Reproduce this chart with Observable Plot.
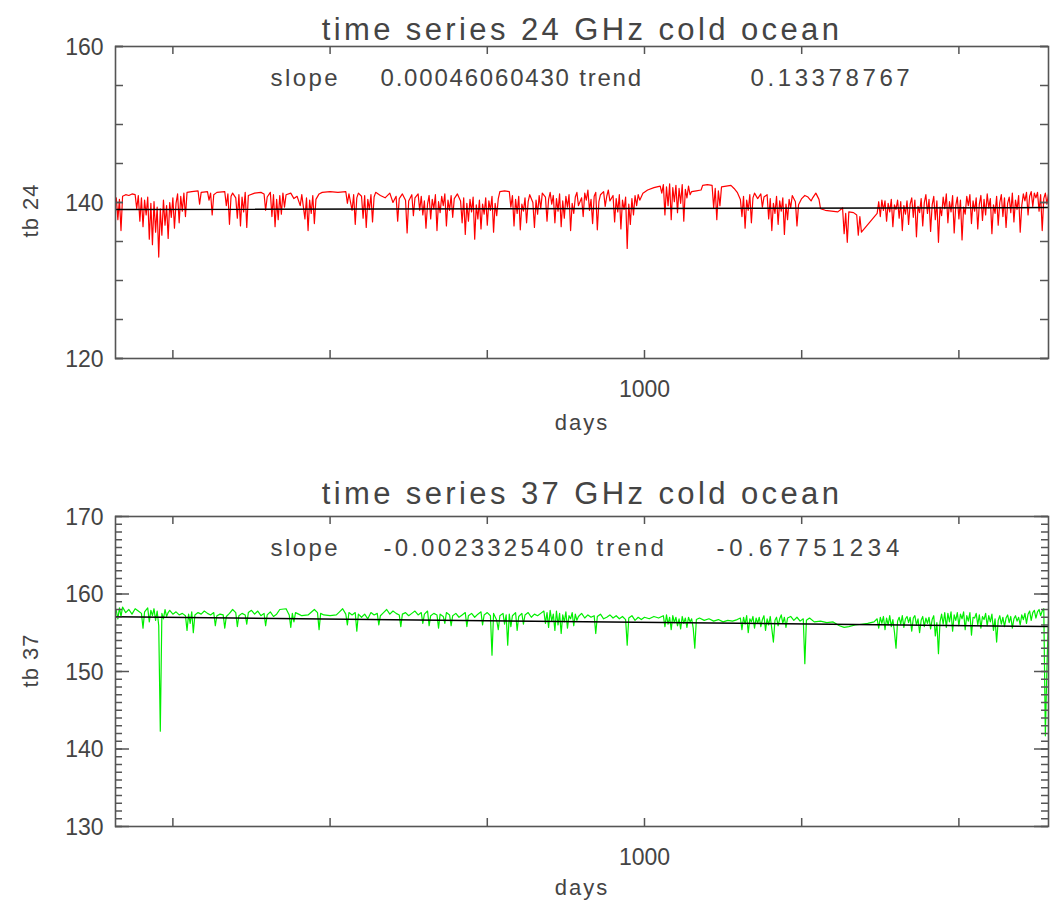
<!DOCTYPE html>
<html><head><meta charset="utf-8">
<script src="https://cdn.jsdelivr.net/npm/d3@7"></script>
<script src="https://cdn.jsdelivr.net/npm/@observablehq/plot@0.6"></script>
<style>body{margin:0;background:#fff} svg{display:block}</style>
</head><body><div id="c"></div>
<script>
// [day, tb]
const series24 = [
[664,140.6],[665,137.8],[666,140.4],[667,136.4],[668,140.8],[670,141.0],[672,140.9],[674,141.1],[676,141.0],[677,139.2],[678,140.9],[679,137.6],[680,140.6],[681,136.9],[682,140.3],[683,138.4],[684,140.7],[685,135.3],[686,139.9],[687,134.6],[688,140.1],[689,136.2],[690,139.4],[691,133.0],[692,139.2],[693,135.8],[694,140.3],[695,137.1],[696,139.6],[697,135.4],[698,140.0],[699,138.1],[700,140.6],[701,136.7],[702,139.9],[703,141.1],[704,137.4],[705,140.8],[706,138.9],[707,141.2],[708,138.2],[709,141.3],
[712,141.4],[716,141.5],[717,139.8],[718,141.3],[722,141.4],[723,140.3],[724,141.2],[725,138.4],[726,141.0],[728,141.3],[733,141.4],[734,139.6],[735,141.1],[736,137.2],[737,140.8],[738,141.2],[740,140.6],[741,138.0],[742,141.0],[743,137.0],[744,140.7],[745,138.8],[746,141.3],[747,136.8],[748,140.9],[752,141.2],[756,141.3],[758,141.1],[759,139.0],[760,140.7],[762,141.3],[763,138.2],[764,141.0],[765,136.9],[766,140.4],[767,137.8],[768,140.9],[769,138.5],[770,141.2],[771,139.4],[772,141.0],
[775,141.2],[777,140.5],[779,140.8],[781,139.6],[782,141.0],[784,137.9],[785,140.6],[786,136.4],[787,140.3],[788,138.6],[789,140.9],[790,137.3],[791,140.4],[793,141.1],[795,141.3],[800,141.4],[805,141.3],[810,141.4],[811,139.9],[812,141.1],
[814,139.0],[815,141.0],[816,137.2],[817,140.6],[818,141.2],[820,140.8],[821,138.0],[822,140.9],[823,136.8],[824,140.4],[825,139.1],[826,141.0],[827,137.5],[828,140.7],[829,141.3],[832,140.9],[835,140.6],[838,141.2],[840,140.0],[842,140.8],[843,137.6],[844,140.5],[846,141.1],[848,140.3],[849,136.1],[850,140.2],[852,141.0],[853,138.3],[854,140.6],[856,141.1],[857,139.0],
[858,140.8],[859,138.4],[860,140.2],[861,136.7],[862,139.8],[863,140.9],[864,137.9],[865,140.4],[866,139.2],[867,141.0],[868,136.4],[869,140.1],[870,138.7],[871,140.8],[872,139.6],[873,141.1],[874,137.0],[875,140.3],[876,139.0],[877,140.9],[878,138.1],[879,140.5],[881,141.1],[883,140.2],[884,137.4],[885,140.6],[886,135.9],[887,139.9],[888,137.6],[889,140.4],[890,138.8],[891,140.7],[892,135.3],[893,139.7],[894,137.9],[895,140.3],[896,136.6],[897,139.8],[898,138.5],[899,140.6],[900,137.1],[901,140.2],[902,139.0],[903,140.8],[904,136.2],[905,139.9],[906,138.3],[907,140.5],[908,141.4],[911,141.5],[914,141.4],[915,139.4],[916,140.9],[917,137.0],[918,140.4],[919,138.6],[920,140.8],[921,136.5],[922,139.8],[923,138.9],[924,140.6],[925,137.4],[926,140.1],[927,141.0],
[929,140.0],[930,136.8],[931,140.3],[932,138.5],[933,140.9],[934,139.2],[935,141.2],[937,140.7],[938,137.6],[939,140.4],[940,141.3],[941,139.8],[942,140.9],[943,137.4],[944,140.5],[945,138.9],[946,141.1],[947,136.9],[948,140.2],[949,138.0],[950,140.8],[951,139.4],[952,141.0],[953,136.4],[954,139.9],[955,138.6],[956,140.7],[957,141.3],[958,139.6],[960,140.6],[961,138.2],[962,141.2],[963,140.3],[964,141.6],[965,139.0],[966,140.4],[967,137.3],[968,140.8],[969,141.3],[970,136.5],[971,140.1],
[972,141.0],[974,141.4],[975,139.5],[976,140.8],[977,141.6],[978,140.2],[980,140.9],[981,137.5],[982,140.5],[983,138.8],[984,141.0],[985,136.6],[986,140.3],[987,139.1],[988,140.7],[989,134.1],[990,139.8],[991,137.2],[992,140.5],[993,138.4],[994,140.9],[995,139.6],[996,141.0],[997,140.3],[999,141.2],[1002,141.6],[1006,141.9],[1010,142.1],
[1011,141.2],[1012,142.3],[1013,138.4],[1014,142.0],[1015,139.6],[1016,142.4],[1017,137.8],[1018,141.9],[1019,140.1],[1020,142.2],[1021,138.7],[1022,141.8],[1023,139.9],[1024,142.3],[1025,137.6],[1026,141.7],[1027,140.6],[1028,142.1],[1029,141.0],
[1030,141.4],[1033,141.5],[1036,141.6],[1037,142.2],[1040,142.3],[1043,142.2],[1044,139.3],[1045,141.8],[1046,137.8],[1047,141.5],[1048,139.6],[1049,142.0],[1052,142.1],[1055,142.2],[1057,141.8],[1059,141.3],
[1061,140.4],[1062,138.2],[1063,140.8],[1064,136.7],[1065,140.3],[1066,139.0],[1067,141.0],[1068,137.4],[1069,140.6],[1070,141.2],[1072,140.5],[1074,141.1],[1075,139.4],[1076,140.7],[1078,141.0],[1079,137.9],[1080,140.5],[1081,136.4],[1082,139.9],[1083,138.6],[1084,140.8],[1085,137.2],[1086,140.2],[1087,138.9],[1088,140.6],[1089,135.9],[1090,139.8],[1091,137.8],[1092,140.4],[1093,139.3],[1094,140.9],[1096,140.1],[1097,137.0],[1098,139.7],[1100,140.5],[1102,140.9],[1104,140.7],[1106,140.2],
[1107,140.6],[1109,141.2],[1111,140.4],[1112,139.2],[1115,139.0],[1119,138.9],[1123,138.8],[1126,139.3],[1127,136.0],[1128,138.6],[1129,134.9],[1130,138.8],[1133,138.7],[1135,138.4],[1136,135.8],[1137,138.2],[1138,136.2],[1148,138.6],
[1149,140.1],[1150,138.2],[1151,140.3],[1152,139.0],[1153,140.2],[1154,137.6],[1155,139.9],[1156,138.8],[1157,140.4],[1158,136.9],[1159,139.7],[1160,139.1],[1161,140.3],[1162,138.0],[1163,140.1],[1164,136.4],[1165,139.6],[1166,138.5],[1167,140.2],[1168,137.2],[1169,139.8],[1170,140.6],[1171,138.1],[1172,140.3],[1173,135.6],[1174,139.5],[1175,138.7],[1176,140.5],[1177,137.0],[1178,140.0],[1179,141.0],[1180,138.6],[1181,140.4],[1182,136.3],[1183,139.7],[1184,140.8],[1185,137.8],[1186,140.2],[1187,134.9],[1188,139.4],[1189,138.3],[1190,140.7],[1191,139.2],[1192,141.1],[1193,137.4],[1194,140.1],[1195,138.8],[1196,140.9],[1197,136.1],[1198,139.6],[1199,140.7],[1200,137.9],[1201,140.3],[1202,135.2],[1203,139.4],[1204,138.5],[1205,140.8],[1206,139.6],[1207,141.0],[1208,137.3],[1209,140.2],[1210,138.9],[1211,140.6],[1212,136.6],[1213,139.8],[1214,140.9],[1215,137.7],[1216,140.4],[1217,138.4],[1218,141.1],[1219,139.3],[1220,140.5],[1221,136.0],[1222,139.7],[1223,138.6],[1224,140.8],[1225,137.1],[1226,140.0],[1227,141.0],[1228,138.2],[1229,140.6],[1230,136.8],[1231,139.9],[1232,140.7],[1233,138.7],[1234,141.2],[1235,137.5],[1236,140.3],[1237,139.1],[1238,140.9],[1239,136.2],[1240,139.6],[1241,141.1],[1242,140.2],[1243,141.3],[1244,138.4],[1245,140.8],[1246,141.4],[1247,139.5],[1248,141.2],[1249,140.6],[1250,141.3],[1251,138.9],[1252,141.0],[1253,136.4],[1254,140.5],[1255,141.2],[1256,139.8],[1257,141.1]
];
const series37 = [
[664,157.9],[665,156.8],[666,158.2],[667,157.1],[668,158.3],[670,157.6],[672,158.0],[674,157.4],[676,158.1],[678,157.8],[680,157.5],[681,155.6],[682,157.7],[684,158.2],[685,156.4],[686,157.9],[687,157.2],[688,158.1],[689,156.6],[690,157.8],[691,155.9],[692,142.3],[693,157.5],[694,156.8],[695,158.0],[696,157.1],[697,157.6],[698,157.9],[700,157.4],[702,157.7],[704,157.3],[706,157.5],[708,157.2],[709,155.3],[710,157.4],[711,156.2],[712,157.7],[713,155.0],[714,157.3],[716,157.6],[718,157.4],
[720,157.8],[722,157.5],[724,157.3],[726,157.6],[727,155.9],[728,157.2],[730,157.4],[732,157.3],[733,155.6],[734,157.1],[736,157.5],[738,158.0],[740,157.6],[741,155.8],[742,157.2],[744,157.5],[746,157.3],[747,156.1],[748,157.6],[750,157.9],[752,157.4],[754,157.8],[756,157.2],[758,157.5],[759,155.9],[760,157.3],[762,157.7],[764,157.1],[766,157.4],[768,158.0],[772,158.1],[774,157.3],[775,155.7],[776,157.5],[777,156.4],[778,157.6],[780,157.4],[782,157.2],[786,157.3],[790,158.0],[792,157.6],[793,155.4],[794,157.5],[796,157.3],[800,157.2],[804,157.3],[806,157.7],[808,158.1],[810,157.4],[811,156.0],[812,157.6],
[814,157.3],[816,157.6],[817,155.2],[818,157.4],[820,157.0],[822,157.4],[824,156.8],[826,157.6],[828,157.3],[830,157.5],[831,156.0],[832,157.2],[834,157.6],[836,158.0],[838,157.4],[840,157.8],[842,157.5],[844,157.3],[845,155.8],[846,157.4],[848,157.6],[850,157.2],[852,157.5],[854,157.8],[856,157.3],[858,157.6],[859,156.2],[860,157.4],[862,157.8],[863,155.9],[864,157.2],[866,157.5],[868,157.3],[869,155.6],[870,157.4],[872,157.1],[873,156.2],[874,157.6],[876,157.3],[877,155.9],[878,157.2],[880,157.5],[882,157.0],[884,157.3],[886,157.6],[887,155.8],[888,157.2],[890,157.5],[892,157.0],[894,157.4],[896,157.7],[897,156.0],[898,157.3],[900,157.6],[902,157.2],[903,152.1],[904,157.5],[906,156.6],[907,155.4],[908,157.2],[910,157.5],[911,156.1],[912,157.3],[913,153.4],[914,157.4],[915,155.8],[916,157.2],[918,157.6],[919,155.3],[920,157.1],[922,157.5],[923,156.1],[924,157.3],[926,157.6],[928,157.0],
[930,157.4],[932,157.2],[934,157.5],[936,157.8],[937,156.2],[938,157.6],[939,155.7],[940,157.9],[941,156.5],[942,157.4],[943,155.3],[944,157.8],[945,156.0],[946,157.5],[947,154.9],[948,157.3],[949,156.4],[950,157.7],[951,155.6],[952,157.2],[953,156.8],[954,157.6],[955,155.9],[956,157.4],[957,156.6],[958,157.1],[960,157.5],[962,156.9],[964,157.3],[966,157.0],[968,157.2],[969,154.9],[970,157.1],[972,157.4],[974,156.8],[976,157.0],[978,157.3],[980,156.9],[982,157.2],[984,156.8],[986,157.1],[988,156.7],[989,153.4],[990,156.9],[992,157.2],[994,156.6],[996,157.0],[998,156.7],
[1000,157.0],[1003,156.8],[1006,157.1],[1009,156.9],[1012,157.2],[1013,155.8],[1014,157.3],[1015,156.1],[1016,157.0],[1017,155.4],[1018,157.2],[1019,156.3],[1020,157.0],[1021,155.9],[1022,156.8],[1023,155.5],[1024,157.1],[1025,156.2],[1026,156.9],[1027,155.7],[1028,157.0],[1029,156.4],[1030,156.8],[1031,155.6],[1032,153.0],[1033,156.7],[1035,156.9],[1038,156.6],[1041,156.8],[1044,156.5],[1047,156.7],[1050,156.4],[1053,156.6],[1056,156.5],[1059,156.7],
[1061,156.9],[1062,155.4],[1063,157.0],[1064,156.1],[1065,157.2],[1066,155.0],[1067,156.8],[1068,156.4],[1069,157.1],[1070,155.6],[1071,156.9],[1072,156.2],[1073,157.0],[1074,155.8],[1075,156.7],[1076,157.2],[1077,155.3],[1078,156.8],[1079,156.0],[1080,157.1],[1081,155.5],[1082,153.8],[1083,156.6],[1084,157.0],[1085,155.9],[1086,156.8],[1087,157.3],[1088,156.2],[1089,157.0],[1090,155.7],[1091,156.9],[1093,157.1],[1095,156.6],[1097,157.0],[1099,156.5],[1101,156.8],[1102,151.0],[1103,156.6],[1105,156.9],[1108,156.4],[1112,156.5],[1116,156.3],[1120,156.4],[1124,155.9],[1127,155.7],[1130,155.8],[1134,156.0],[1138,156.1],[1142,156.2],[1146,156.4],
[1148,156.8],[1149,155.6],[1150,157.0],[1151,156.2],[1152,157.1],[1153,155.4],[1154,156.9],[1155,156.0],[1156,157.2],[1157,155.8],[1158,156.7],[1159,155.1],[1160,153.0],[1161,156.5],[1162,157.0],[1163,156.1],[1164,157.2],[1165,155.7],[1166,156.8],[1167,157.1],[1168,156.3],[1169,157.0],[1170,155.2],[1171,156.9],[1172,157.2],[1173,156.0],[1174,156.8],[1175,155.0],[1176,156.6],[1177,157.1],[1178,155.8],[1179,156.9],[1180,156.2],[1181,157.0],[1182,155.5],[1183,156.7],[1184,157.2],[1185,154.6],[1186,156.3],[1187,152.3],[1188,156.4],[1189,157.4],[1190,156.1],[1191,157.6],[1192,155.7],[1193,157.5],[1194,156.4],[1195,157.7],[1196,155.2],[1197,157.3],[1198,156.6],[1199,157.6],[1200,155.9],[1201,157.4],[1202,156.8],[1203,157.7],[1204,155.4],[1205,157.2],[1206,156.5],[1207,157.6],[1208,154.7],[1209,157.0],[1210,156.9],[1211,157.5],[1212,156.0],[1213,157.3],[1214,155.6],[1215,157.1],[1216,156.7],[1217,157.5],[1218,155.9],[1219,157.2],[1220,156.4],[1221,157.4],[1222,155.3],[1223,156.8],[1224,153.8],[1225,156.6],[1226,157.2],[1227,156.1],[1228,157.0],[1229,155.8],[1230,156.9],[1231,157.3],[1232,156.3],[1233,157.1],[1234,155.6],[1235,156.8],[1236,157.2],[1237,156.5],[1238,157.0],[1239,156.0],[1240,157.3],[1241,156.7],[1242,157.5],[1243,156.2],[1244,157.4],[1245,157.8],[1246,156.6],[1247,157.6],[1248,157.9],[1249,156.9],[1250,157.7],[1251,158.0],[1252,157.2],[1253,157.8],[1254,158.1],[1255,141.7],[1256,150.5],[1257,157.0]
];
const trend24 = [[663.5,139.1],[1257,139.35]];
const trend37 = [[663.5,157.05],[1257,155.8]];

const xDomain = [663.5, 1257];
const xTicks = [700, 800, 900, 1000, 1100, 1200];
const xLabels = [1000];

const yDomain24 = [120, 160];
const yLabels24 = [120, 140, 160];
const yMinor24 = [120, 125, 130, 135, 140, 145, 150, 155, 160];

const yDomain37 = [130, 170];
const yLabels37 = [130, 140, 150, 160, 170];
const yMinor37 = [130,131,132,133,134,135,136,137,138,139,140,141,142,143,144,145,146,147,148,149,150,151,152,153,154,155,156,157,158,159,160,161,162,163,164,165,166,167,168,169,170];

const panels = [
  {data: series24, trend: trend24, color: "#ff0000", yDomain: yDomain24, yLabels: yLabels24, yMinor: yMinor24,
   majorLen: 8, minorLen: 8, title: "time series 24 GHz cold ocean",
   s1: "slope", s2: "0.00046060430 trend", s3: "0.13378767", s2x: 380, s3x: 750, sp2: 1.8, sp3: 3.6,
   ylab: "tb 24", height: 451, marginTop: 46, marginBottom: 93, titleDy: -16, ylabDy: 8, daysDy: 64},
  {data: series37, trend: trend37, color: "#00ee00", yDomain: yDomain37, yLabels: yLabels37, yMinor: yMinor37,
   majorLen: 14, minorLen: 7, title: "time series 37 GHz cold ocean",
   s1: "slope", s2: "-0.0023325400 trend", s3: "-0.67751234", s2x: 383, s3x: 716, sp2: 3.2, sp3: 4.8,
   ylab: "tb 37", height: 451, marginTop: 65, marginBottom: 76, titleDy: -22, ylabDy: -11, daysDy: 61}
];

const W = 1050, ML = 115, MR = 2;
const fw = W - ML - MR;
const axisColor = "#555";
const font = "Liberation Sans, Arial, Helvetica, sans-serif";
const narrow = "'Liberation Sans Narrow', 'Arial Narrow', sans-serif";

for (const p of panels) {
  const fh = p.height - p.marginTop - p.marginBottom;
  const X = d => d[0], Y = d => d[1];
  const svg = Plot.plot({
    width: W, height: p.height,
    marginLeft: ML, marginRight: MR, marginTop: p.marginTop, marginBottom: p.marginBottom,
    style: {fontFamily: font, fontSize: "21px", color: "#444", background: "#fff", overflow: "visible"},
    x: {domain: xDomain, type: "linear"},
    y: {domain: p.yDomain},
    marks: [
      Plot.line(p.data, {x: X, y: Y, stroke: p.color, strokeWidth: 1.2, clip: true}),
      Plot.line(p.trend, {x: X, y: Y, stroke: "#000", strokeWidth: 1.5, clip: true}),
      Plot.frame({stroke: axisColor, strokeWidth: 1.6}),
      Plot.tickX(xTicks, {x: d => d, insetTop: fh - 8, stroke: axisColor, strokeWidth: 1.5}),
      Plot.tickX(xTicks, {x: d => d, insetBottom: fh - 8, stroke: axisColor, strokeWidth: 1.5}),
      Plot.tickY(p.yMinor, {y: d => d, stroke: axisColor, strokeWidth: 1.5, insetRight: fw - p.minorLen}),
      Plot.tickY(p.yLabels, {y: d => d, stroke: axisColor, strokeWidth: 1.5, insetRight: fw - p.majorLen}),
      Plot.tickY(p.yMinor, {y: d => d, stroke: axisColor, strokeWidth: 1.5, insetLeft: fw - p.minorLen}),
      Plot.tickY(p.yLabels, {y: d => d, stroke: axisColor, strokeWidth: 1.5, insetLeft: fw - p.majorLen}),
      Plot.axisY({ticks: p.yLabels, tickSize: 0, tickPadding: 12, label: null, tickFormat: d => String(d), dy: 1, fontSize: 21}),
      Plot.axisX({ticks: xLabels, tickSize: 0, tickPadding: 22, label: null, tickFormat: d => String(d), fontSize: 21}),
      Plot.text(["days"], {text: d => d, frameAnchor: "bottom", dy: p.daysDy, lineAnchor: "middle", fontSize: 22}),
      Plot.text([p.ylab], {text: d => d, frameAnchor: "left", dx: -85, dy: p.ylabDy, rotate: -90, textAnchor: "middle", lineAnchor: "middle", fontSize: 22}),
      Plot.text([p.title], {text: d => d, frameAnchor: "top", dy: p.titleDy, textAnchor: "middle", lineAnchor: "middle", fontSize: 31}),
      Plot.text([p.s1], {text: d => d, frameAnchor: "top-left", dx: 270 - ML, dy: 32, textAnchor: "start", lineAnchor: "middle", fontSize: 24}),
      Plot.text([p.s2], {text: d => d, frameAnchor: "top-left", dx: p.s2x - ML, dy: 32, textAnchor: "start", lineAnchor: "middle", fontSize: 24}),
      Plot.text([p.s3], {text: d => d, frameAnchor: "top-left", dx: p.s3x - ML, dy: 32, textAnchor: "start", lineAnchor: "middle", fontSize: 24})
    ]
  });
  const spacing = {};
  spacing[p.title] = 3.4;
  spacing[p.s1] = 2.4;
  spacing[p.s2] = p.sp2;
  spacing[p.s3] = p.sp3;
  spacing["days"] = 2;
  spacing[p.ylab] = 1;
  const tickTexts = new Set(p.yLabels.map(String).concat(xLabels.map(String)));
  d3.select(svg).selectAll("text").each(function() {
    const t = this.textContent;
    if (spacing[t] !== undefined) this.setAttribute("letter-spacing", spacing[t]);
    if (tickTexts.has(t)) { this.setAttribute("font-family", narrow); this.setAttribute("font-size", 23); this.style.fontFamily = narrow; }
  });
  document.getElementById("c").appendChild(svg);
}
</script>
</body></html>
